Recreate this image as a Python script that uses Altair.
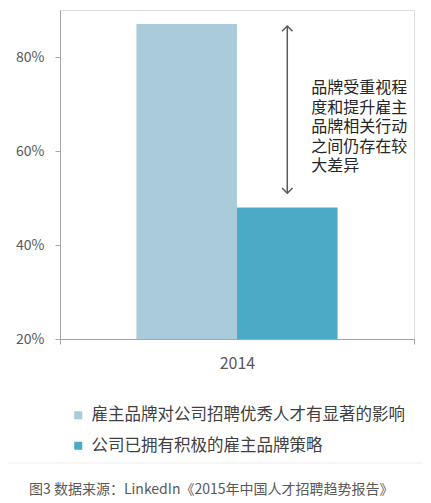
import altair as alt
import pandas as pd

# ---- data ----
years = ["2014"]
series = ["雇主品牌对公司招聘优秀人才有显著的影响", "公司已拥有积极的雇主品牌策略"]
values = [0.87, 0.48]
colors = ["#A9CBDA", "#4BABC6"]
y_ticks = [0.2, 0.4, 0.6, 0.8]
y_domain = [0.2, 0.9]
note_lines = ["品牌受重视程", "度和提升雇主", "品牌相关行动", "之间仍存在较", "大差异"]
arrow_top = [0.866]
arrow_bottom = [0.51]
note_y = [0.751]
caption = "图3 数据来源：LinkedIn《2015年中国人才招聘趋势报告》"

FONT = "Noto Sans CJK SC"
AXIS_GRAY = "#A6A6A6"
LABEL_GRAY = "#595959"

bars_df = pd.DataFrame({"year": years * len(series), "series": series, "value": values})
arrow_df = pd.DataFrame({"year": years, "series": [series[1]],
                         "top": arrow_top, "bottom": arrow_bottom, "note": note_y})
one_df = pd.DataFrame({"k": [0]})

x_enc = alt.X("year:N", title=None,
              scale=alt.Scale(paddingInner=0, paddingOuter=0),
              axis=alt.Axis(labelAngle=0, tickBand="extent", domainColor=AXIS_GRAY,
                            tickColor=AXIS_GRAY, tickSize=5, labelFontSize=16,
                            labelColor=LABEL_GRAY, labelPadding=11, labelFont=FONT))
xo_enc = alt.XOffset("series:N", sort=series,
                     scale=alt.Scale(domain=series, paddingInner=0, paddingOuter=0.76))

bars = alt.Chart(bars_df).mark_bar(clip=True).encode(
    x=x_enc,
    xOffset=xo_enc,
    y=alt.Y("value:Q", title=None,
            scale=alt.Scale(domain=y_domain, nice=False, zero=False),
            axis=alt.Axis(values=y_ticks, format=".0%", grid=False, domainColor=AXIS_GRAY,
                          tickColor=AXIS_GRAY, tickSize=5, labelPadding=11,
                          labelFontSize=14, labelColor=LABEL_GRAY, labelFont=FONT)),
    color=alt.Color("series:N", sort=series,
                    scale=alt.Scale(domain=series, range=colors),
                    legend=alt.Legend(title=None, orient="none", legendX=10, legendY=397,
                                      symbolType="square", symbolSize=64,
                                      symbolStrokeWidth=0, labelFontSize=16.5,
                                      labelColor="#404040", labelFont=FONT,
                                      rowPadding=13.5, labelOffset=5, padding=0,
                                      labelLimit=400)),
)

arrow = alt.Chart(arrow_df).mark_rule(color="#595959", strokeWidth=1.5).encode(
    x="year:N", xOffset=alt.XOffset("series:N"), y="top:Q", y2="bottom:Q")

head_up = alt.Chart(arrow_df).mark_point(
    shape="M-1,1L0,0L1,1", filled=False, size=110, color="#595959",
    strokeWidth=1.5, opacity=1).encode(
    x="year:N", xOffset=alt.XOffset("series:N"), y="top:Q")

head_down = alt.Chart(arrow_df).mark_point(
    shape="M-1,-1L0,0L1,-1", filled=False, size=110, color="#595959",
    strokeWidth=1.5, opacity=1).encode(
    x="year:N", xOffset=alt.XOffset("series:N"), y="bottom:Q")

note = alt.Chart(arrow_df).mark_text(
    text=note_lines, align="left", baseline="top", dx=24, lineHeight=19.5,
    fontSize=16, font=FONT, color="#262626").encode(
    x="year:N", xOffset=alt.XOffset("series:N"), y="note:Q")

sep = alt.Chart(one_df).mark_rule(color="#EBEBEB", strokeWidth=1).encode(
    x=alt.value(-60), x2=alt.value(371), y=alt.value(453))

cap = alt.Chart(one_df).mark_text(
    text=caption, align="left", baseline="alphabetic", fontSize=14, font=FONT,
    color=LABEL_GRAY).encode(x=alt.value(-31), y=alt.value(484))

chart = alt.layer(bars, arrow, head_up, head_down, note, sep, cap).properties(
    width=354, height=329,
    autosize=alt.AutoSizeParams(type="none"),
    padding={"left": 52, "top": 2, "right": 9, "bottom": 160},
).configure_view(stroke=None).configure(font=FONT, background="white")

chart.save("out.html", embed_options={"renderer": "svg", "actions": False})
